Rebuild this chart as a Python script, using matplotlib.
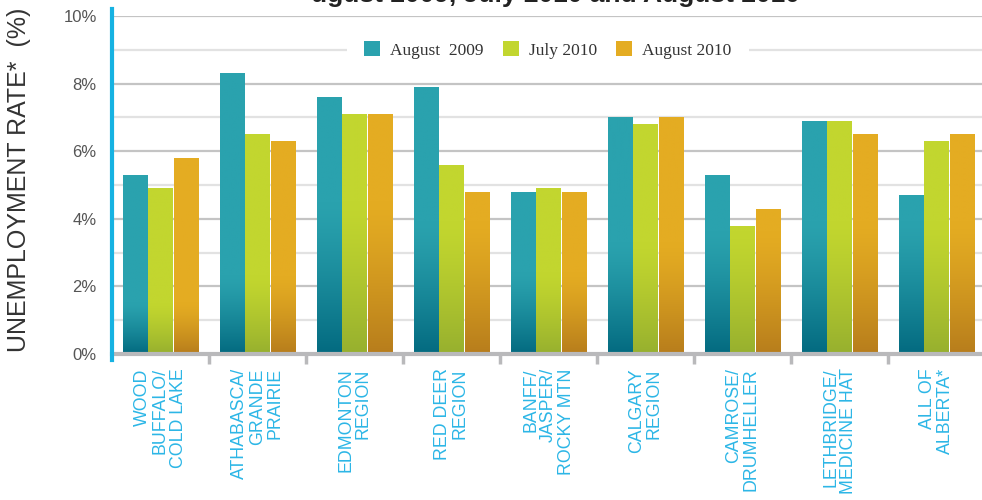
import numpy as np
import matplotlib
matplotlib.use("Agg")
import matplotlib.pyplot as plt
from matplotlib.colors import to_rgb
from matplotlib.patches import Patch

regions = ["WOOD\nBUFFALO/\nCOLD LAKE", "ATHABASCA/\nGRANDE\nPRAIRIE",
           "EDMONTON\nREGION", "RED DEER\nREGION", "BANFF/\nJASPER/\nROCKY MTN",
           "CALGARY\nREGION", "CAMROSE/\nDRUMHELLER", "LETHBRIDGE/\nMEDICINE HAT",
           "ALL OF\nALBERTA*"]
series = ["August  2009", "July 2010", "August 2010"]
aug_2009 = [5.3, 8.3, 7.6, 7.9, 4.8, 7.0, 5.3, 6.9, 4.7]
jul_2010 = [4.9, 6.5, 7.1, 5.6, 4.9, 6.8, 3.8, 6.9, 6.3]
aug_2010 = [5.8, 6.3, 7.1, 4.8, 4.8, 7.0, 4.3, 6.5, 6.5]
yticks = [0, 2, 4, 6, 8, 10]

# light (top) / dark (bottom) shades per series, and where the dark fade begins per group
light = ["#2aa2ae", "#c2d62f", "#e4ac22"]
dark = ["#036a80", "#97b02e", "#b77d1c"]
fade_top = [0.7, 1.5, 3.7, 3.1, 1.6, 2.5, 2.8, 3.1, 3.1]

fig = plt.figure(figsize=(9.82, 5.0), dpi=100)
ax = fig.add_axes([112 / 982, 1 - 354 / 500, 873 / 982, 338 / 500])

x = np.arange(len(regions)) + 0.5
width, step = 0.25, 0.265
for k, vals in enumerate([aug_2009, jul_2010, aug_2010]):
    c0, c1 = np.array(to_rgb(light[k])), np.array(to_rgb(dark[k]))
    for i, v in enumerate(vals):
        xc = x[i] + (k - 1) * step
        bar = ax.bar(xc, v, width=width, color=light[k], zorder=2)[0]
        yy = np.linspace(v, 0, 200)
        t = np.clip((fade_top[i] + 0.8 - yy) / (fade_top[i] + 0.8), 0, 1) ** 1.3
        img = (c0[None, :] * (1 - t[:, None]) + c1[None, :] * t[:, None])[:, None, :]
        im = ax.imshow(img, extent=(xc - width / 2, xc + width / 2, 0, v),
                       aspect="auto", zorder=3, interpolation="bilinear")
        im.set_clip_path(bar)

ax.set_xlim(0, 9)
ax.set_ylim(0, 10)

# grid lines
for g in range(1, 11):
    ax.axhline(g, color="#c4c4c4" if g % 2 == 0 else "#e2e2e2",
               lw=1.6, zorder=1)

for s in ["top", "right", "left"]:
    ax.spines[s].set_visible(False)
ax.spines["bottom"].set_color("#b9b9bb")
ax.spines["bottom"].set_linewidth(3)
ax.spines["bottom"].set_zorder(4)
ax.plot([0, 0], [-0.17, 10.2], color="#16b2e2", lw=3, clip_on=False, zorder=5)

ax.set_xticks(np.arange(1, 9))
ax.set_xticklabels([])
ax.tick_params(axis="x", length=7, width=2.5, color="#b9b9bb")
for i, lab in enumerate(regions):
    ax.text(x[i], -0.42, lab, rotation=90, ha="center", va="top",
            multialignment="right", color="#2cb6e6", fontsize=12.8,
            family="Liberation Sans", linespacing=1.05)

ax.set_yticks(yticks)
ax.set_yticklabels([f"{t}%" for t in yticks], color="#555555",
                   fontsize=12, family="Liberation Sans")
ax.tick_params(axis="y", length=0, pad=11)

fig.text(19 / 982, 1 - 180 / 500, "UNEMPLOYMENT RATE*  (%)", rotation=90,
         ha="center", va="center", fontsize=18, color="#333333",
         family="Liberation Sans")

fig.text(555 / 982, 1 - 2 / 500, "ugust 2009, July 2010 and August 2010",
         ha="center", va="baseline", fontsize=19, fontweight="bold",
         color="#222222", family="Liberation Sans")

handles = [Patch(facecolor=c, edgecolor="none") for c in light]
leg = ax.legend(handles, series, loc="center", bbox_to_anchor=(548 / 982, 1 - 50 / 500),
                bbox_transform=fig.transFigure, ncol=3, frameon=True,
                fancybox=False, edgecolor="none", facecolor="white", framealpha=1,
                handlelength=0.9, handleheight=0.9, handletextpad=0.6,
                columnspacing=1.1, borderpad=1.0,
                prop={"family": "Liberation Serif", "size": 12.5})
for t in leg.get_texts():
    t.set_color("#333333")
leg.set_zorder(6)

fig.savefig("out.png", dpi=100)
